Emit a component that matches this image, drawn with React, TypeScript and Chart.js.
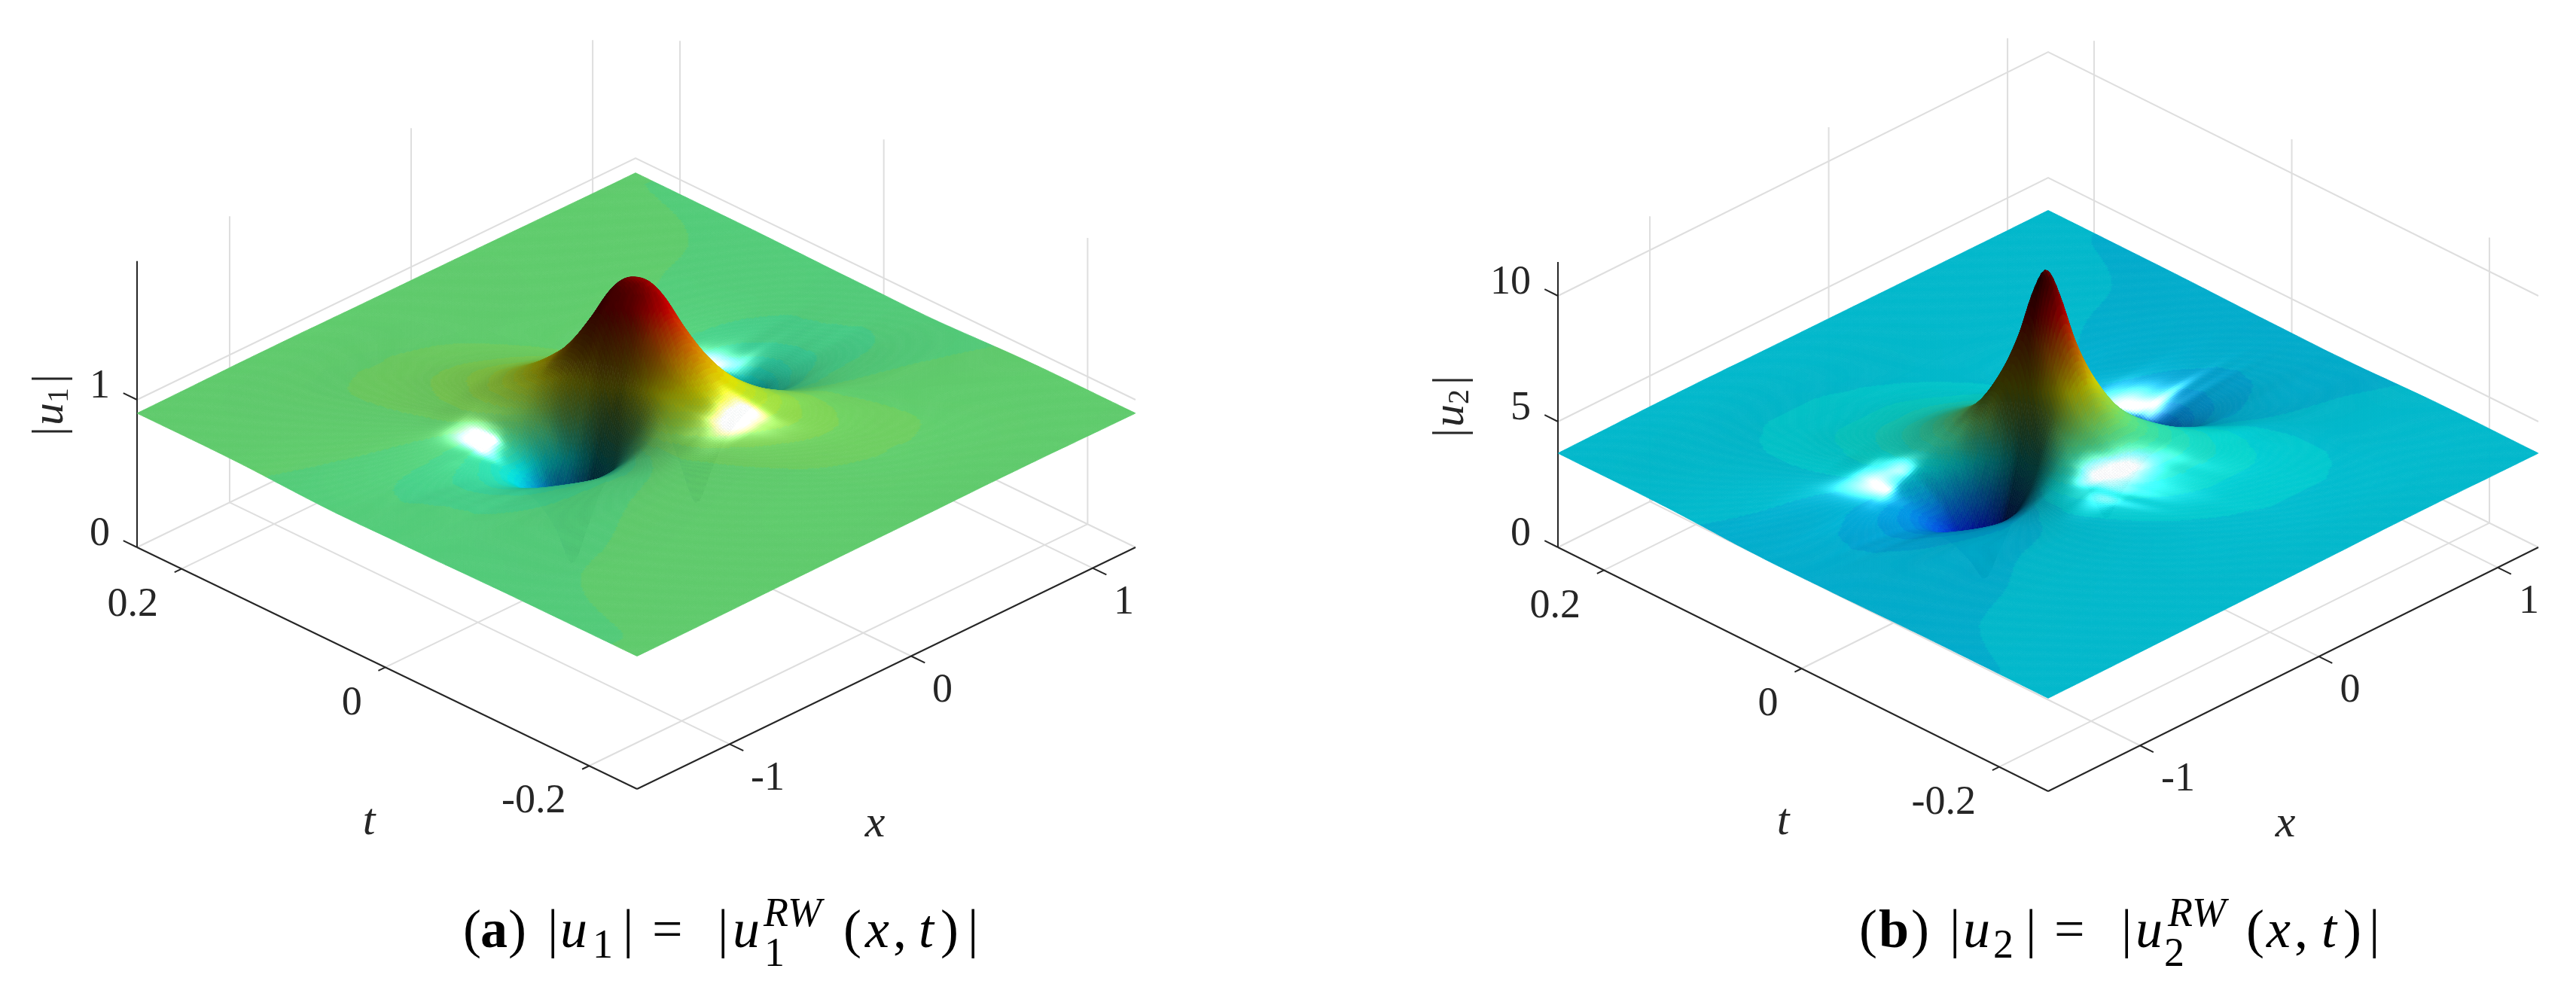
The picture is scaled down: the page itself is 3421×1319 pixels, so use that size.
import React, { useEffect, useRef } from "react";
import { Chart, registerables, ScatterController } from "chart.js";

Chart.register(...registerables);

// ---- values ----
const xTicks = [-1, 0, 1];
const tTicks = [0.2, 0, -0.2];
const u1Ticks = [0, 1];
const u2Ticks = [0, 5, 10];
const tTickLabels = ["0.2", "0", "-0.2"];

// surface height over the background level, by distance from the crest
const crestAcross = [0, 0.2, 0.4, 0.6, 0.75, 0.87, 1, 1.25, 1.6, 2.2, 3.2, 5];
const crestAlong = [0, 0.15, 0.3, 0.5, 0.75, 1, 1.5, 2, 3, 5];
const u1Background = 0.9;
const u2Background = 3.7;
const u1Relief = [
  [2.0, 1.84, 1.32, 0.72, 0.33, 0.08, 0.3, 0.62, 0.83, 0.94, 0.98, 0.995],
  [1.98, 1.82, 1.32, 0.78, 0.46, 0.3, 0.41, 0.65, 0.84, 0.94, 0.98, 0.995],
  [1.9, 1.76, 1.33, 0.9, 0.67, 0.55, 0.58, 0.71, 0.86, 0.943, 0.98, 0.995],
  [1.72, 1.62, 1.32, 1.0, 0.85, 0.77, 0.75, 0.8, 0.89, 0.945, 0.98, 0.995],
  [1.52, 1.46, 1.28, 1.09, 0.98, 0.92, 0.89, 0.88, 0.925, 0.955, 0.981, 0.995],
  [1.38, 1.34, 1.23, 1.12, 1.05, 1.0, 0.965, 0.94, 0.955, 0.965, 0.982, 0.995],
  [1.21, 1.19, 1.15, 1.1, 1.07, 1.045, 1.025, 1.0, 0.99, 0.985, 0.987, 0.996],
  [1.12, 1.11, 1.09, 1.07, 1.055, 1.04, 1.03, 1.017, 1.008, 0.999, 0.992, 0.997],
  [1.05, 1.05, 1.045, 1.04, 1.035, 1.03, 1.026, 1.02, 1.015, 1.01, 1.002, 0.998],
  [1.015, 1.015, 1.015, 1.014, 1.013, 1.013, 1.012, 1.011, 1.01, 1.009, 1.006, 1],
];
const u2Relief = [
  [3.0, 2.32, 1.27, 0.56, 0.21, 0.01, 0.2, 0.52, 0.78, 0.92, 0.975, 0.99],
  [2.78, 2.24, 1.32, 0.68, 0.39, 0.29, 0.32, 0.55, 0.79, 0.92, 0.975, 0.99],
  [2.38, 2.05, 1.4, 0.9, 0.65, 0.55, 0.52, 0.64, 0.82, 0.93, 0.976, 0.99],
  [1.98, 1.82, 1.46, 1.12, 0.93, 0.82, 0.75, 0.76, 0.86, 0.94, 0.977, 0.99],
  [1.64, 1.57, 1.41, 1.24, 1.11, 1.02, 0.94, 0.88, 0.91, 0.955, 0.978, 0.991],
  [1.44, 1.41, 1.33, 1.24, 1.16, 1.1, 1.05, 0.97, 0.95, 0.97, 0.981, 0.992],
  [1.25, 1.24, 1.21, 1.17, 1.14, 1.12, 1.09, 1.04, 0.995, 0.985, 0.986, 0.994],
  [1.15, 1.15, 1.14, 1.12, 1.1, 1.09, 1.07, 1.045, 1.02, 1.003, 0.993, 0.996],
  [1.07, 1.07, 1.068, 1.06, 1.055, 1.05, 1.045, 1.035, 1.03, 1.015, 1.003, 0.998],
  [1.02, 1.02, 1.02, 1.018, 1.018, 1.016, 1.015, 1.014, 1.012, 1.01, 1.006, 1],
];

// ---- layout ----
const FONT = '"Liberation Serif"';
const INK = "#262626";
const GRID = "#dedede";
const MESH = 300;
const LIGHT_L = norm([0.35, -0.4, 0.85]);

function norm(v: number[]) {
  const l = Math.hypot(v[0], v[1], v[2]);
  return [v[0] / l, v[1] / l, v[2] / l];
}

const panels = [
  {
    left: 0, width: 1710,
    front: [846, 1048], rightEnd: [1508, 727], leftEnd: [182, 727],
    xRange: [-1.51, 1.236], tRange: [-0.247, 0.2436],
    zPx: 196, zTop: 1.94, zTicks: u1Ticks, zLabels: ["0", "1"], clim: 1.858,
    relief: u1Relief, background: u1Background, sheen: norm([-0.15, -0.45, 0.88]),
    crest: [-0.12, 0.003], xiX: 2.55, xiT: 7.14, tauT: 21.4, tauX: 0,
    zName: "1", zNameAt: [67, 537], tAt: [490, 1092], xAt: [1162, 1095],
    caption: [
      ["(", 615, 0, 72, ""], ["a", 638, 0, 72, "bold"], [")", 675, 0, 72, ""], ["|", 727, 0, 72, ""],
      ["u", 744, 0, 72, "italic"], ["1", 787, 14, 54, ""], ["|", 827, 0, 72, ""], ["=", 866, 0, 72, ""],
      ["|", 953, 0, 72, ""], ["u", 973, 0, 72, "italic"], ["RW", 1014, -28, 54, "italic"], ["1", 1015, 25, 54, ""],
      ["(", 1120, 0, 72, ""], ["x", 1149, 0, 72, "italic"], [",", 1186, 0, 72, ""], ["t", 1220, 0, 72, "italic"],
      [")", 1249, 0, 72, ""], ["|", 1285, 0, 72, ""],
    ],
  },
  {
    left: 1710, width: 1711,
    front: [1010, 1051], rightEnd: [1661, 727], leftEnd: [359, 727],
    xRange: [-1.514, 1.227], tRange: [-0.2495, 0.2465],
    zPx: 33.4, zTop: 11.35, zTicks: u2Ticks, zLabels: ["0", "5", "10"], clim: 10.76,
    relief: u2Relief, background: u2Background, sheen: norm([-0.2, -0.35, 0.9]),
    crest: [-0.16, -0.002], xiX: 2.55, xiT: 7.14, tauT: 21.4, tauX: 0,
    zName: "2", zNameAt: [217, 539], tAt: [658, 1092], xAt: [1325, 1095],
    caption: [
      ["(", 759, 0, 72, ""], ["b", 785, 0, 72, "bold"], [")", 828, 0, 72, ""], ["|", 879, 0, 72, ""],
      ["u", 897, 0, 72, "italic"], ["2", 937, 14, 54, ""], ["|", 980, 0, 72, ""], ["=", 1018, 0, 72, ""],
      ["|", 1107, 0, 72, ""], ["u", 1126, 0, 72, "italic"], ["RW", 1169, -28, 54, "italic"], ["2", 1164, 25, 54, ""],
      ["(", 1273, 0, 72, ""], ["x", 1300, 0, 72, "italic"], [",", 1337, 0, 72, ""], ["t", 1373, 0, 72, "italic"],
      [")", 1402, 0, 72, ""], ["|", 1436, 0, 72, ""],
    ],
  },
];

type Panel = (typeof panels)[number];

function projector(p: Panel) {
  const xs = p.xRange[1] - p.xRange[0];
  const ts = p.tRange[1] - p.tRange[0];
  const ex = [(p.rightEnd[0] - p.front[0]) / xs, (p.rightEnd[1] - p.front[1]) / xs];
  const et = [(p.leftEnd[0] - p.front[0]) / ts, (p.leftEnd[1] - p.front[1]) / ts];
  return (x: number, t: number, z: number) => ({
    x: p.front[0] + (x - p.xRange[0]) * ex[0] + (t - p.tRange[0]) * et[0],
    y: p.front[1] + (x - p.xRange[0]) * ex[1] + (t - p.tRange[0]) * et[1] - z * p.zPx,
  });
}

function cubic(nodes: number[], vals: number[], q: number) {
  const n = nodes.length;
  if (q >= nodes[n - 1]) return vals[n - 1];
  let i = 0;
  while (q > nodes[i + 1]) i++;
  const slope = (k: number) =>
    k === 0 || k === n - 1 ? 0 : (vals[k + 1] - vals[k - 1]) / (nodes[k + 1] - nodes[k - 1]);
  const h = nodes[i + 1] - nodes[i];
  const s = (q - nodes[i]) / h;
  const s2 = s * s;
  const s3 = s2 * s;
  return (
    (2 * s3 - 3 * s2 + 1) * vals[i] +
    (s3 - 2 * s2 + s) * h * slope(i) +
    (-2 * s3 + 3 * s2) * vals[i + 1] +
    (s3 - s2) * h * slope(i + 1)
  );
}

function heightAt(p: Panel, x: number, t: number) {
  const dx = x - p.crest[0];
  const dt = t - p.crest[1];
  const xi = Math.abs(dx * p.xiX + dt * p.xiT);
  const tau = Math.abs(dt * p.tauT + dx * p.tauX);
  const col = crestAcross.map((_, j) => cubic(crestAlong, p.relief.map((r) => r[j]), tau));
  return Math.max(0, cubic(crestAcross, col, xi)) * p.background;
}

function jet(v: number) {
  const q = (Math.min(63, Math.floor(Math.max(0, v) * 64)) + 0.5) / 64;
  const c = (a: number) => Math.min(1, Math.max(0, 1.5 - Math.abs(4 * q - a)));
  return [c(3), c(2), c(1)];
}

function buildMesh(p: Panel) {
  const project = projector(p);
  const n = MESH;
  const pts: { x: number; y: number }[] = [];
  const zs = new Float32Array((n + 1) * (n + 1));
  for (let i = 0; i <= n; i++) {
    const x = p.xRange[0] + ((p.xRange[1] - p.xRange[0]) * i) / n;
    for (let j = 0; j <= n; j++) {
      const t = p.tRange[0] + ((p.tRange[1] - p.tRange[0]) * j) / n;
      const z = heightAt(p, x, t);
      zs[i * (n + 1) + j] = z;
      pts.push(project(x, t, z));
    }
  }
  const dx = p.rightEnd[0] - p.front[0];
  const world = dx * Math.SQRT2;
  const sinE = (p.front[1] - p.rightEnd[1]) / dx;
  const cosE = Math.sqrt(1 - sinE * sinE);
  const zw = p.zPx / cosE;
  const d = world / n;
  const H = p.sheen;
  const colors: string[] = [];
  for (let i = 0; i < n; i++) {
    for (let j = 0; j < n; j++) {
      const a = zs[i * (n + 1) + j], b = zs[i * (n + 1) + j + 1];
      const c = zs[(i + 1) * (n + 1) + j], e = zs[(i + 1) * (n + 1) + j + 1];
      const nn = norm([(-(c + e - a - b) * zw) / (2 * d), (-(b + e - a - c) * zw) / (2 * d), 1]);
      const diff = Math.max(0, nn[0] * LIGHT_L[0] + nn[1] * LIGHT_L[1] + nn[2] * LIGHT_L[2]);
      const mean = (a + b + c + e) / 4;
      const crestFade = Math.max(0, Math.min(1, (1.5 * p.background - mean) / (0.3 * p.background)));
      const spec = crestFade * Math.pow(Math.max(0, nn[0] * H[0] + nn[1] * H[1] + nn[2] * H[2]), 70);
      const rgb = jet(mean / p.clim);
      const lit = 0.2 + 0.7 * diff;
      colors.push(
        `rgb(${rgb.map((v) => Math.round(255 * Math.min(1, v * lit + 1.1 * spec))).join(",")})`
      );
    }
  }
  return { pts, colors, n };
}

class SurfaceController extends (ScatterController as any) {
  static id = "surface";
  static defaults = {};
  draw() {
    const self = this as any;
    const ds = self.getDataset();
    const { x: xs, y: ys } = self.chart.scales;
    const ctx = self.chart.ctx;
    const n = ds.meshSize;
    const px = ds.data.map((q: any) => [xs.getPixelForValue(q.x), ys.getPixelForValue(q.y)]);
    ctx.save();
    ctx.lineWidth = 0.7;
    for (let i = n - 1; i >= 0; i--) {
      for (let j = n - 1; j >= 0; j--) {
        const a = px[i * (n + 1) + j], b = px[i * (n + 1) + j + 1];
        const c = px[(i + 1) * (n + 1) + j + 1], e = px[(i + 1) * (n + 1) + j];
        const col = ds.cellColors[i * n + j];
        ctx.fillStyle = col;
        ctx.strokeStyle = col;
        ctx.beginPath();
        ctx.moveTo(a[0], a[1]);
        ctx.lineTo(b[0], b[1]);
        ctx.lineTo(c[0], c[1]);
        ctx.lineTo(e[0], e[1]);
        ctx.closePath();
        ctx.fill();
        ctx.stroke();
      }
    }
    ctx.restore();
  }
}
Chart.register(SurfaceController as any);

function lineSet(points: { x: number; y: number }[], color: string, width: number, label: string) {
  return {
    type: "scatter" as const, label, data: points, showLine: true, borderColor: color,
    borderWidth: width, pointRadius: 0, fill: false, tension: 0,
  };
}

function textPlugin(p: Panel) {
  return {
    id: "labels",
    afterDraw(chart: any) {
      const project = projector(p);
      const { x: xs, y: ys } = chart.scales;
      const ctx = chart.ctx;
      const at = (q: { x: number; y: number }) => [xs.getPixelForValue(q.x), ys.getPixelForValue(q.y)];
      const tickFont = `54px ${FONT}`;
      ctx.save();
      ctx.fillStyle = INK;
      ctx.textBaseline = "middle";
      ctx.font = tickFont;
      ctx.textAlign = "left";
      xTicks.forEach((v) => {
        const [a, b] = at(project(v, p.tRange[0], 0));
        ctx.fillText(String(v), a + 28, b + 46);
      });
      ctx.textAlign = "right";
      tTicks.forEach((v, i) => {
        const [a, b] = at(project(p.xRange[0], v, 0));
        ctx.fillText(tTickLabels[i], a - 31, b + 48);
      });
      p.zTicks.forEach((v, i) => {
        const [a, b] = at(project(p.xRange[0], p.tRange[1], v));
        ctx.fillText(p.zLabels[i], a - 36, b - 17);
      });
      ctx.textAlign = "center";
      ctx.font = `italic 60px ${FONT}`;
      ctx.fillText("t", p.tAt[0], p.tAt[1]);
      ctx.fillText("x", p.xAt[0], p.xAt[1]);

      // rotated |u_n| axis title
      ctx.save();
      ctx.translate(p.zNameAt[0], p.zNameAt[1]);
      ctx.rotate(-Math.PI / 2);
      ctx.textAlign = "left";
      ctx.font = `60px ${FONT}`;
      ctx.fillText("|", -42, 0);
      ctx.font = `italic 60px ${FONT}`;
      ctx.fillText("u", -28, 0);
      ctx.font = `40px ${FONT}`;
      ctx.fillText(p.zName, 2, 12);
      ctx.font = `60px ${FONT}`;
      ctx.fillText("|", 28, 0);
      ctx.restore();

      // caption
      ctx.textBaseline = "alphabetic";
      ctx.textAlign = "left";
      ctx.fillStyle = "#000000";
      (p.caption as any[]).forEach(([s, x, dy, size, style]) => {
        ctx.font = `${style} ${size}px ${FONT}`;
        ctx.fillText(s, x, 1258 + dy);
      });
      ctx.restore();
    },
  };
}

function chartConfig(p: Panel) {
  const project = projector(p);
  const [x0, x1] = p.xRange;
  const [t0, t1] = p.tRange;
  const sets: any[] = [];
  const mesh = buildMesh(p);
  sets.push({
    type: "surface", label: p.zName === "1" ? "|u1|" : "|u2|", data: mesh.pts, meshSize: mesh.n,
    cellColors: mesh.colors, pointRadius: 0, showLine: false,
  });
  // front axes and ticks
  const tickX = 0.0385;
  const tickT = 0.0135;
  sets.push(lineSet([project(x0, t1, 0), project(x0, t1, p.zTop)], INK, 2, "z axis"));
  sets.push(lineSet([project(x0, t1, 0), project(x0, t0, 0)], INK, 2, "t axis"));
  sets.push(lineSet([project(x0, t0, 0), project(x1, t0, 0)], INK, 2, "x axis"));
  xTicks.forEach((v) =>
    sets.push(lineSet([project(v, t0, 0), project(v, t0 - tickT, 0)], INK, 2, "x tick"))
  );
  tTicks.forEach((v) =>
    sets.push(lineSet([project(x0, v, 0), project(x0 - tickX, v, 0)], INK, 2, "t tick"))
  );
  p.zTicks.forEach((v) =>
    sets.push(lineSet([project(x0, t1, v), project(x0, t1 + tickT, v)], INK, 2, "z tick"))
  );
  // grid on floor and back walls
  xTicks.forEach((v) => {
    sets.push(lineSet([project(v, t0, 0), project(v, t1, 0), project(v, t1, p.zTop)], GRID, 2, "grid"));
  });
  tTicks.forEach((v) => {
    sets.push(lineSet([project(x0, v, 0), project(x1, v, 0), project(x1, v, p.zTop)], GRID, 2, "grid"));
  });
  p.zTicks.forEach((v) => {
    sets.push(lineSet([project(x0, t1, v), project(x1, t1, v), project(x1, t0, v)], GRID, 2, "grid"));
  });
  return {
    type: "scatter" as const,
    data: { datasets: sets },
    options: {
      animation: false as const,
      responsive: false,
      devicePixelRatio: 1,
      events: [] as any[],
      layout: { padding: 0 },
      plugins: { legend: { display: false }, tooltip: { enabled: false }, title: { display: false } },
      scales: {
        x: { type: "linear" as const, display: false, min: 0, max: p.width },
        y: { type: "linear" as const, display: false, min: 0, max: 1319, reverse: true },
      },
    },
    plugins: [textPlugin(p)],
  };
}

function Panel3D({ p }: { p: Panel }) {
  const ref = useRef<HTMLCanvasElement>(null);
  useEffect(() => {
    const chart = new Chart(ref.current as HTMLCanvasElement, chartConfig(p) as any);
    return () => chart.destroy();
  }, [p]);
  return (
    <canvas
      ref={ref}
      width={p.width}
      height={1319}
      style={{ position: "absolute", left: p.left, top: 0, width: p.width, height: 1319, display: "block" }}
    />
  );
}

export default function App() {
  return (
    <div style={{ position: "absolute", left: 0, top: 0, width: 3421, height: 1319, overflow: "hidden", background: "#fff" }}>
      {panels.map((p) => (
        <Panel3D key={p.left} p={p} />
      ))}
    </div>
  );
}
